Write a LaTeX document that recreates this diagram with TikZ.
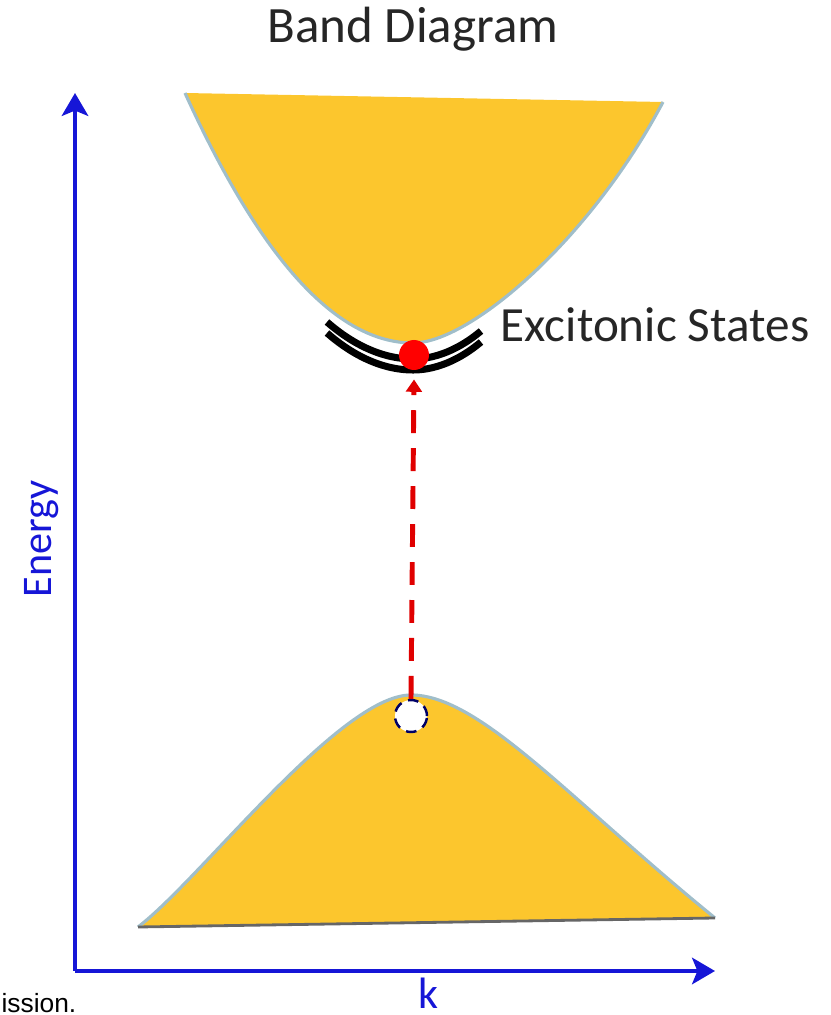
\documentclass[tikz,border=0pt]{standalone}
\usepackage{fontspec}
\setmainfont{Carlito}
\newfontfamily\arialfont{Liberation Sans}
\usetikzlibrary{arrows.meta, positioning}
\definecolor{bandfill}{RGB}{252,198,45}
\definecolor{bandline}{RGB}{160,190,202}
\definecolor{axisblue}{RGB}{22,22,215}
\tikzset{
  band/.style={fill=bandfill, draw=none},
  bandedge/.style={draw=bandline, line width=0.9pt},
  axis/.style={draw=axisblue, line width=1.4pt, -{Stealth[length=6.5pt,width=7.5pt,inset=1.5pt]}},
  exline/.style={draw=black, line width=2pt},
  elec/.style={circle, fill=red, inner sep=0, minimum size=0.30cm},
  hole/.style={circle, fill=white, draw=blue!40!black, densely dashed, line width=0.7pt, inner sep=0, minimum size=0.32cm},
  trans/.style={draw=red!88!black, line width=1.4pt, dash pattern=on 6.5pt off 4.3pt, -{Triangle[length=3.5pt,width=4.5pt]}},
  lbl/.style={inner sep=0, text=black!85}}

\begin{document}
\begin{tikzpicture}
\useasboundingbox (0,0) rectangle (8.3,10.15);
	\coordinate (o) at (0.75,0.44);
	\coordinate (ytip) at (0.75,9.22);
	\coordinate (xtip) at (7.15,0.44);
	% conduction band
	\coordinate (cbl) at (1.85,9.22);
	\coordinate (cbr) at (6.63,9.13);
	\coordinate (cbm) at (4.13,6.72);
	% valence band
	\coordinate (vbl) at (1.38,0.88);
	\coordinate (vbr) at (7.15,0.97);
	\coordinate (vbm) at (4.11,3.20);
\fill[band] (cbl) .. controls (2.61,7.55) and (3.37,6.72) .. (cbm) .. controls (4.70,6.72) and (5.90,7.75) .. (cbr) -- cycle;
\draw[bandedge] (cbl) .. controls (2.61,7.55) and (3.37,6.72) .. (cbm) .. controls (4.70,6.72) and (5.90,7.75) .. (cbr);
\fill[band] (vbl) .. controls (2.00,1.35) and (3.40,3.20) .. (vbm) .. controls (4.80,3.20) and (5.70,2.15) .. (vbr) -- cycle;
\draw[bandedge] (vbl) .. controls (2.00,1.35) and (3.40,3.20) .. (vbm) .. controls (4.80,3.20) and (5.70,2.15) .. (vbr);
\draw[draw=black!60, line width=0.8pt] (vbl) -- (vbr);
% excitonic levels
\draw[exline] (3.27,6.93) parabola bend (4.13,6.56) (4.81,6.84);
\draw[exline] (3.27,6.82) parabola bend (4.13,6.45) (4.81,6.73);
\node[elec] (elec) at (4.14,6.60) {};
\node[hole] (hole) at (4.11,2.99) {};
\draw[trans] (hole.north) -- ([yshift=-2.5pt]elec.south);
%\draw[trans] (hole) -- (elec);
\draw[axis] (o) -- (ytip);
\draw[axis] (o) -- (xtip);
\draw (4.13,9.72) node[lbl, anchor=base, font=\fontsize{14.5}{17}\selectfont] (title) {Band Diagram};
\draw (5.00,6.73) node[lbl, anchor=base west, font=\fontsize{14}{17}\selectfont] (exlbl) {Excitonic States};
\draw (0.52,4.17) node[lbl, anchor=base west, rotate=90, text=axisblue, font=\fontsize{12}{15}\selectfont] (elbl) {Energy};
\draw (4.28,0.06) node[lbl, anchor=base, text=axisblue, font=\fontsize{12.5}{15}\selectfont] (klbl) {k};
\draw (0.77,0.02) node[lbl, anchor=base east, text=black, font=\arialfont\fontsize{7.5}{9}\selectfont] (cut) {ission.};
\end{tikzpicture}
\end{document}
